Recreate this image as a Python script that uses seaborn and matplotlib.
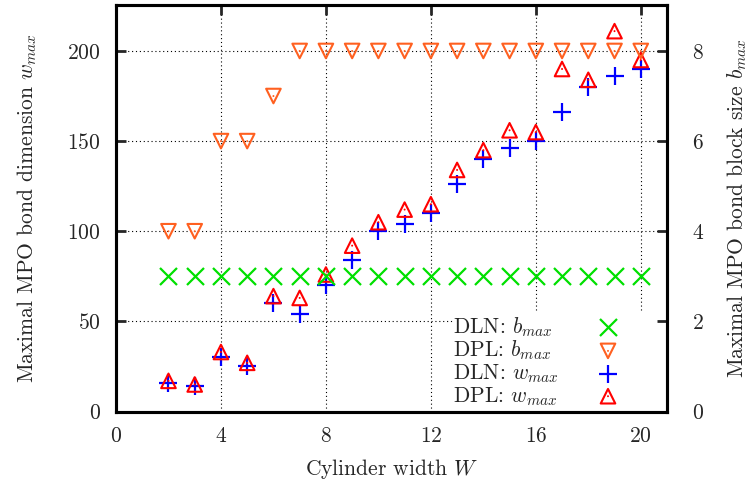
import matplotlib
matplotlib.use("Agg")
import numpy as np
import matplotlib.pyplot as plt
from matplotlib.legend_handler import HandlerTuple
import seaborn as sns

# cylinder widths
W = list(range(2, 21))

# block sizes (right axis)
dln_bmax = [3] * 19
dpl_bmax = [4, 4, 6, 6, 7] + [8] * 14

# bond dimensions (left axis)
dln_wmax = [16, 14, 30, 25, 60, 54, 70, 84, 100, 104, 110,
            126, 140, 146, 150, 166, 180, 186, 190]
dpl_wmax = [17, 15, 33, 27, 64, 63, 76, 92, 105, 112, 115,
            134, 145, 156, 155, 190, 184, 211, 195]

x_ticks = [0, 4, 8, 12, 16, 20]
w_ticks = [0, 50, 100, 150, 200]
b_ticks = [0, 2, 4, 6, 8]

sns.set_style("white")
plt.rcParams["font.family"] = ["cmr10", "DejaVu Serif"]
plt.rcParams["mathtext.fontset"] = "cm"
plt.rcParams["axes.formatter.use_mathtext"] = True

FS = 15.5
GREEN = "#00e000"
ORANGE = "#ff6020"
BLUE = "#0000ff"
RED = "#ff0000"

fig = plt.figure(figsize = (7.48, 4.83), dpi = 100)
ax = fig.add_axes([116 / 748, 1 - 411.5 / 483, 551 / 748, 406.5 / 483])
ax2 = ax.twinx()

# left axis : w_max
sns.scatterplot(x = W, y = dln_wmax, ax = ax, marker = "+", s = 150, color = BLUE,
                linewidth = 1.6, zorder = 3, legend = False)
sns.scatterplot(x = W, y = dpl_wmax, ax = ax, marker = "^", s = 110, color = RED,
                facecolors = "none", edgecolors = RED, linewidth = 1.5, zorder = 4, legend = False)
sns.scatterplot(x = W, y = dpl_wmax, ax = ax, marker = "o", s = 2, color = RED,
                edgecolors = "none", zorder = 4, legend = False)

# right axis : b_max
sns.scatterplot(x = W, y = dln_bmax, ax = ax2, marker = "x", s = 150, color = GREEN,
                linewidth = 1.6, zorder = 3, legend = False)
sns.scatterplot(x = W, y = dpl_bmax, ax = ax2, marker = "v", s = 110, color = ORANGE,
                facecolors = "none", edgecolors = ORANGE, linewidth = 1.5, zorder = 4, legend = False)
sns.scatterplot(x = W, y = dpl_bmax, ax = ax2, marker = "o", s = 2, color = ORANGE,
                edgecolors = "none", zorder = 4, legend = False)

ax.set_xlim(0, 21)
ax.set_ylim(0, 225.5)
ax2.set_ylim(0, 225.5 / 25)
ax.set_xticks(x_ticks)
ax.set_yticks(w_ticks)
ax2.set_yticks(b_ticks)

# key area (axes fraction): grid lines stop where gnuplot's opaque key begins
key_x0 = (453 - 116) / 551
key_y1 = (411.5 - 310) / 406.5

# dotted grid, drawn by hand so it can stop at the key
grid_kw = dict(color = "black", linestyle = (0, (1, 2.5)), linewidth = 0.8, zorder = 0.5)
for xv in x_ticks[1:]:
    x_frac = xv / 21
    ax.axvline(xv, ymin = key_y1 if x_frac > key_x0 else 0, ymax = 1, **grid_kw)
for yv in w_ticks[1:]:
    y_frac = yv / 225.5
    ax.axhline(yv, xmin = 0, xmax = key_x0 if y_frac < key_y1 else 1, **grid_kw)

for a in (ax, ax2):
    for sp in a.spines.values():
        sp.set_linewidth(2.2)
        sp.set_color("black")

ax.tick_params(axis = "x", direction = "in", length = 7, width = 2, labelsize = FS,
               top = True, pad = 11)
ax.tick_params(axis = "y", direction = "in", length = 7, width = 2, labelsize = FS,
               right = False, pad = 11)
ax2.tick_params(axis = "y", direction = "in", length = 7, width = 2, labelsize = FS, pad = 18)

ax.set_xlabel("Cylinder width $W$", fontsize = FS)
ax.set_ylabel("Maximal MPO bond dimension $w_{max}$", fontsize = FS)
ax2.set_ylabel("Maximal MPO bond block size $b_{max}$", fontsize = FS)
ax.xaxis.set_label_coords(0.5, -0.113)
ax.yaxis.set_label_coords(-0.14, 0.5)
ax2.yaxis.set_label_coords(1.106, 0.5)

c1 = ax.collections
c2 = ax2.collections
handles = [c2[0], (c2[1], c2[2]), c1[0], (c1[1], c1[2])]
labels = ["DLN: $b_{max}$", "DPL: $b_{max}$", "DLN: $w_{max}$", "DPL: $w_{max}$"]
leg = ax2.legend(handles, labels, loc = "upper left", bbox_to_anchor = (key_x0, key_y1 - 0.012),
                 markerfirst = False, frameon = False, fontsize = FS,
                 handlelength = 1.5, handletextpad = 1.0, labelspacing = 0.0,
                 borderpad = 0.0, borderaxespad = 0.0,
                 handler_map = {tuple: HandlerTuple(ndivide = 1, pad = 0)})

# left-align key texts while keeping markers in one column
fig.canvas.draw()
r = fig.canvas.get_renderer()
widths = [t.get_window_extent(r).width for t in leg.get_texts()]
col = leg._legend_handle_box.get_children()[0]
col.align = "left"
target = 608 - 453 - 0.75 * FS * fig.dpi / 72
for row, w in zip(col.get_children(), widths):
    row.sep = (target - w) * 72 / fig.dpi

fig.savefig("out.png", dpi = 100)
